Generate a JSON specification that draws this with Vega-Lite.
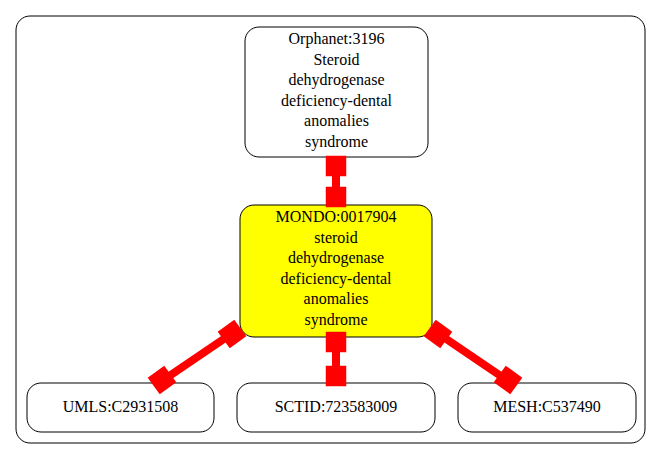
{
  "$schema": "https://vega.github.io/schema/vega-lite/v6.json",
  "width": 661,
  "height": 459,
  "autosize": {"type": "fit", "contains": "padding"},
  "padding": 0,
  "background": "white",
  "config": {"view": {"stroke": null}},
  "datasets": {
    "frame": [{"x": 16, "x2": 645, "y": 16, "y2": 443}],
    "nodes": [
      {"id": "orphanet", "x": 245, "x2": 428, "y": 27, "y2": 157, "cx": 336.5, "cy": 31, "fill": "white", "label": "Orphanet:3196\nSteroid\ndehydrogenase\ndeficiency-dental\nanomalies\nsyndrome"},
      {"id": "mondo", "x": 240, "x2": 432, "y": 205, "y2": 337, "cx": 336, "cy": 209, "fill": "yellow", "label": "MONDO:0017904\nsteroid\ndehydrogenase\ndeficiency-dental\nanomalies\nsyndrome"},
      {"id": "umls", "x": 27, "x2": 214, "y": 383, "y2": 432, "cx": 120.5, "cy": 399, "fill": "white", "label": "UMLS:C2931508"},
      {"id": "sctid", "x": 237, "x2": 435, "y": 383, "y2": 432, "cx": 336, "cy": 399, "fill": "white", "label": "SCTID:723583009"},
      {"id": "mesh", "x": 458, "x2": 636, "y": 383, "y2": 432, "cx": 547, "cy": 399, "fill": "white", "label": "MESH:C537490"}
    ],
    "edges": [
      {"edge": "a", "order": 0, "x": 336, "y": 157},
      {"edge": "a", "order": 1, "x": 336, "y": 205},
      {"edge": "b", "order": 0, "x": 240, "y": 328},
      {"edge": "b", "order": 1, "x": 156, "y": 385},
      {"edge": "c", "order": 0, "x": 336, "y": 337},
      {"edge": "c", "order": 1, "x": 336, "y": 383},
      {"edge": "d", "order": 0, "x": 430, "y": 328},
      {"edge": "d", "order": 1, "x": 514, "y": 385}
    ],
    "heads": [
      {"x": 336, "y": 166, "angle": 0},
      {"x": 336, "y": 197, "angle": 0},
      {"x": 232, "y": 334, "angle": -36},
      {"x": 162, "y": 380, "angle": -36},
      {"x": 336, "y": 342, "angle": 0},
      {"x": 336, "y": 376, "angle": 0},
      {"x": 438, "y": 334, "angle": 36},
      {"x": 508, "y": 380, "angle": 36}
    ]
  },
  "layer": [
    {
      "data": {"name": "frame"},
      "mark": {"type": "rect", "fill": "white", "stroke": "black", "strokeWidth": 1, "cornerRadius": 14},
      "encoding": {
        "x": {"field": "x", "type": "quantitative", "scale": {"domain": [0, 661], "nice": false, "zero": false}, "axis": null},
        "x2": {"field": "x2"},
        "y": {"field": "y", "type": "quantitative", "scale": {"domain": [0, 459], "nice": false, "zero": false, "reverse": true}, "axis": null},
        "y2": {"field": "y2"}
      }
    },
    {
      "data": {"name": "edges"},
      "mark": {"type": "line", "color": "red", "strokeWidth": 8},
      "encoding": {
        "x": {"field": "x", "type": "quantitative"},
        "y": {"field": "y", "type": "quantitative"},
        "detail": {"field": "edge"},
        "order": {"field": "order"}
      }
    },
    {
      "data": {"name": "nodes"},
      "mark": {"type": "rect", "stroke": "black", "strokeWidth": 1, "cornerRadius": 14},
      "encoding": {
        "x": {"field": "x", "type": "quantitative"},
        "x2": {"field": "x2"},
        "y": {"field": "y", "type": "quantitative"},
        "y2": {"field": "y2"},
        "fill": {"field": "fill", "type": "nominal", "scale": null}
      }
    },
    {
      "data": {"name": "heads"},
      "mark": {"type": "point", "shape": "square", "filled": true, "color": "red", "opacity": 1, "size": 420},
      "encoding": {
        "x": {"field": "x", "type": "quantitative"},
        "y": {"field": "y", "type": "quantitative"},
        "angle": {"field": "angle", "type": "quantitative", "scale": null}
      }
    },
    {
      "data": {"name": "nodes"},
      "mark": {"type": "text", "font": "Liberation Serif", "fontSize": 16, "lineBreak": "\n", "lineHeight": 20.6, "baseline": "top", "align": "center", "color": "black"},
      "encoding": {
        "x": {"field": "cx", "type": "quantitative"},
        "y": {"field": "cy", "type": "quantitative"},
        "text": {"field": "label"}
      }
    }
  ]
}
